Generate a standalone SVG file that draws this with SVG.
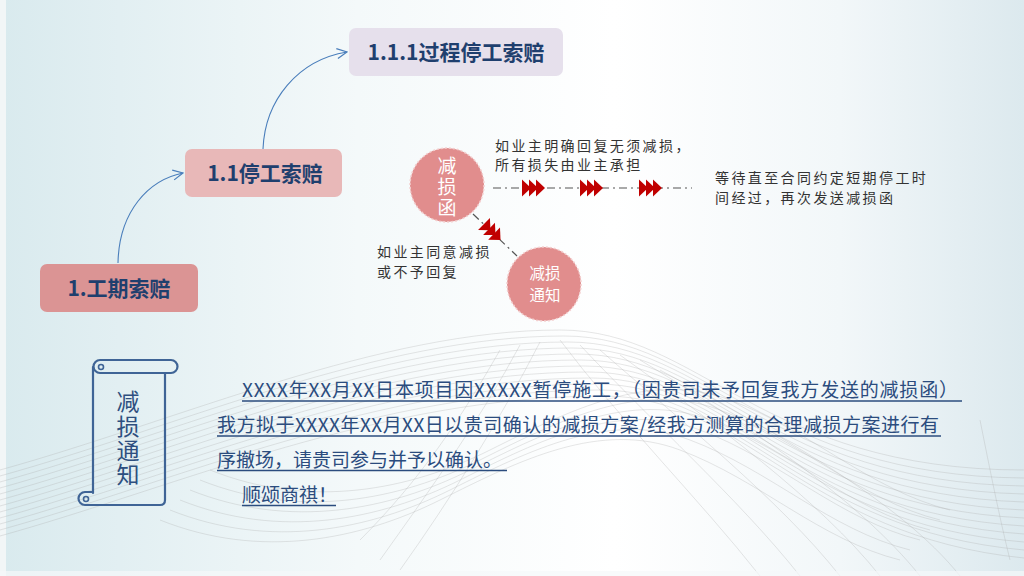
<svg xmlns="http://www.w3.org/2000/svg" width="1024" height="576" viewBox="0 0 1024 576">
<defs>
<linearGradient id="bg" x1="0" y1="0" x2="1" y2="0">
<stop offset="0" stop-color="#d9eaee"/>
<stop offset="0.35" stop-color="#f4f9fa"/>
<stop offset="0.6" stop-color="#ffffff"/>
<stop offset="0.82" stop-color="#f2f7f9"/>
<stop offset="1" stop-color="#dce9ee"/>
</linearGradient>
<marker id="arr" viewBox="0 0 12 12" refX="11" refY="6" markerWidth="12" markerHeight="12" markerUnits="userSpaceOnUse" orient="auto">
<path d="M1,1 L11,6 L1,11" fill="none" stroke="#4a7ebb" stroke-width="1.2"/>
</marker>
<g id="chev">
<path d="M0,-8.5 L9,0 L0,8.5 Z"/>
<path d="M7,-8.5 L16,0 L7,8.5 Z"/>
<path d="M14,-8.5 L23,0 L14,8.5 Z"/>
</g>
</defs>
<style>
.node{font-family:"Noto Sans CJK SC","Liberation Sans",sans-serif;font-weight:700;font-size:21px;fill:#1f3f6e;text-anchor:middle}
.note{font-family:"Noto Sans CJK SC",sans-serif;font-size:14px;fill:#333333;letter-spacing:2.4px}
.circ{fill:#e18d8d;stroke:#f3cfcf;stroke-width:1.5;stroke-dasharray:2 2}
.ctext{font-family:"Noto Sans CJK SC",sans-serif;fill:#ffffff;text-anchor:middle}
.dd{stroke:#555555;stroke-width:1.2;fill:none;stroke-dasharray:8 4 2 4}
.para{font-family:"Noto Sans CJK SC","Liberation Sans",sans-serif;font-size:19px;fill:#2b4c7e}
.ul{stroke:#2b4c7e;stroke-width:1.3}
.mesh path{fill:none;stroke:#aaaaaa;stroke-width:0.5;opacity:0.6}
.scroll{fill:none;stroke:#3f6496;stroke-width:2.2;stroke-linecap:round}
.vt{font-family:"Noto Sans CJK SC",sans-serif;font-size:23px;fill:#2e4f80;writing-mode:vertical-rl;letter-spacing:1.3px}
</style>
<rect x="0" y="0" width="1024" height="576" fill="url(#bg)"/>
<rect x="0" y="0" width="6" height="576" fill="#f2f6f7"/>
<g class="mesh">
<path d="M0,470 C180,420 380,330 560,330 C700,330 760,470 1024,470"/>
<path d="M0,476 C180,426 380,336 564,336 C704,336 764,476 1024,478"/>
<path d="M0,482 C180,432 380,342 568,342 C708,342 768,482 1024,486"/>
<path d="M0,488 C180,438 380,348 572,348 C712,348 772,488 1024,494"/>
<path d="M0,494 C180,444 380,354 576,354 C716,354 776,494 1024,502"/>
<path d="M0,500 C180,450 380,360 580,360 C720,360 780,500 1024,510"/>
<path d="M0,506 C180,456 380,366 584,366 C724,366 784,506 1024,518"/>
<path d="M0,512 C180,462 380,372 588,372 C728,372 788,512 1024,526"/>
<path d="M0,518 C180,468 380,378 592,378 C732,378 792,518 1024,534"/>
<path d="M0,524 C180,474 380,384 596,384 C736,384 796,524 1024,542"/>
<path d="M0,530 C180,480 380,390 600,390 C740,390 800,530 1024,550"/>
<path d="M0,536 C180,486 380,396 604,396 C744,396 804,536 1024,558"/>
<path d="M160,520 C260,560 360,540 440,500 C520,460 600,420 680,450 C760,480 820,540 900,560"/>
<path d="M170,510 C270,550 370,530 450,490 C530,450 610,410 690,440 C770,470 830,530 910,550"/>
<path d="M180,500 C280,540 380,520 460,480 C540,440 620,400 700,430 C780,460 840,520 920,540"/>
<path d="M190,490 C290,530 390,510 470,470 C550,430 630,390 710,420 C790,450 850,510 930,530"/>
<path d="M200,480 C300,520 400,500 480,460 C560,420 640,380 720,410 C800,440 860,500 940,520"/>
<path d="M210,470 C310,510 410,490 490,450 C570,410 650,370 730,400 C810,430 870,490 950,510"/>
<path d="M560,340 C620,420 700,500 760,576"/>
<path d="M580,345 C650,420 740,500 800,576"/>
<path d="M600,350 C680,420 780,500 840,576"/>
<path d="M620,355 C710,420 820,500 880,576"/>
<path d="M640,360 C740,420 860,500 920,576"/>
<path d="M660,370 C770,430 900,500 960,576"/>
<path d="M500,350 C460,420 420,480 360,540"/>
<path d="M520,345 C480,420 430,490 380,560"/>
<path d="M540,342 C500,420 450,500 400,570"/>
<path d="M980,420 C990,470 1000,520 1010,560"/>
</g>
<rect x="0" y="571" width="1024" height="5" fill="#f5f8f9" opacity="0.7"/>

<g id="connectors">
<path d="M118,263 C119,212 148,180 183,173" fill="none" stroke="#4a7ebb" stroke-width="1.1" marker-end="url(#arr)"/>
<path d="M263,149 C265,100 298,60 347,52" fill="none" stroke="#4a7ebb" stroke-width="1.1" marker-end="url(#arr)"/>
<line class="dd" x1="493" y1="188" x2="692" y2="188"/>
<line class="dd" x1="473" y1="214" x2="517" y2="256"/>
<g fill="#c00000">
<use href="#chev" x="522" y="188"/>
<use href="#chev" x="580" y="188"/>
<use href="#chev" x="639" y="188"/>
<use href="#chev" transform="translate(484,224) rotate(44)"/>
</g>
</g>

<g id="node-gongqi">
<rect x="40" y="264" width="158" height="48" rx="7" fill="#db9494"/>
<text class="node" x="119" y="296">1.工期索赔</text>
</g>
<g id="node-tinggong">
<rect x="185" y="149" width="157" height="48" rx="7" fill="#e8b8b8"/>
<text class="node" x="265" y="181">1.1停工索赔</text>
</g>
<g id="node-guocheng">
<rect x="349" y="28" width="214" height="48" rx="7" fill="#e6e0ec"/>
<text class="node" x="456" y="60">1.1.1过程停工索赔</text>
</g>

<g id="node-jiansunhan">
<circle class="circ" cx="447" cy="185" r="37"/>
<text font-family="Noto Sans CJK SC, sans-serif" font-size="19" fill="#ffffff" writing-mode="vertical-rl" letter-spacing="2" x="447" y="156">减损函</text>
</g>
<g id="node-jiansuntongzhi">
<circle class="circ" cx="544" cy="284" r="37"/>
<text class="ctext" font-size="15.5" x="545" y="278.5">减损</text>
<text class="ctext" font-size="15.5" x="545" y="301">通知</text>
</g>

<g id="notes">
<text class="note" x="495" y="151">如业主明确回复无须减损，</text>
<text class="note" x="495" y="170">所有损失由业主承担</text>
<text class="note" x="715" y="183">等待直至合同约定短期停工时</text>
<text class="note" x="715" y="203">间经过，再次发送减损函</text>
<text class="note" x="377" y="257">如业主同意减损</text>
<text class="note" x="377" y="277">或不予回复</text>
</g>

<g id="scroll">
<path class="scroll" d="M100,360 H171 A6.5,6.5 0 0 1 171,373 H100 A6.5,6.5 0 0 1 100,360 Z"/>
<circle cx="101" cy="367" r="2.5" fill="none" stroke="#3f6496" stroke-width="1.6"/>
<path class="scroll" d="M93,367 V493"/>
<path class="scroll" d="M165,373 V500 Q165,505 160,505 H85 A6.5,6.5 0 0 1 85,492 H93"/>
<circle cx="86" cy="499" r="2.5" fill="none" stroke="#3f6496" stroke-width="1.6"/>
<text class="vt" x="128" y="390">减损通知</text>
</g>

<g id="letter">
<text class="para" x="242" y="397" textLength="716" lengthAdjust="spacing">XXXX年XX月XX日本项目因XXXXX暂停施工，（因贵司未予回复我方发送的减损函）</text>
<text class="para" x="217" y="432" textLength="722" lengthAdjust="spacing">我方拟于XXXX年XX月XX日以贵司确认的减损方案/经我方测算的合理减损方案进行有</text>
<text class="para" x="217" y="467">序撤场，请贵司参与并予以确认。</text>
<text class="para" x="242" y="502">顺颂商祺！</text>
<line class="ul" x1="242" y1="401" x2="962" y2="401"/>
<line class="ul" x1="217" y1="436" x2="941" y2="436"/>
<line class="ul" x1="217" y1="470.5" x2="507" y2="470.5"/>
<line class="ul" x1="242" y1="505.5" x2="336" y2="505.5"/>
</g>
</svg>
